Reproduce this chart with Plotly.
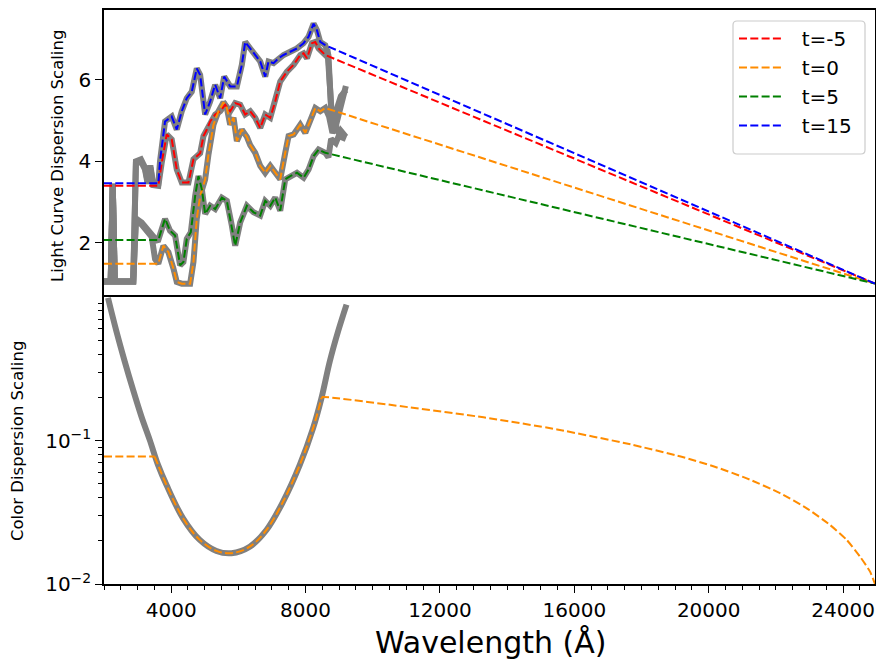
import plotly.graph_objects as go
from plotly.subplots import make_subplots

# ---------------- data ----------------
EPOCH_LABELS = ["t=-5", "t=0", "t=5", "t=15"]
EPOCH_COLORS = ["#ff0000", "#ff8c00", "#008000", "#0000ff"]

# light-curve dispersion scaling, grey "measured" curves per epoch
LC_WL_TM5 = [2000, 2200, 2260, 2320, 2870, 2950, 3100, 3220, 3300, 3380, 3460, 3617, 3717, 3867,
             4016, 4166, 4315, 4514, 4663, 4862, 4961, 5061, 5160, 5309, 5458, 5607, 5756, 5905,
             6054, 6203, 6352, 6501, 6650, 6799, 6948, 7097, 7246, 7445, 7644, 7843, 7941, 8041,
             8190, 8288, 8388, 8586, 8650, 8720, 8800, 8900, 9050, 9200]
LC_VAL_TM5 = [1.05, 1.05, 3.45, 1.05, 1.05, 3.95, 4.0, 3.8, 3.45, 3.85, 3.42, 3.40, 3.96, 4.66,
              4.54, 3.80, 3.48, 3.48, 4.05, 4.20, 4.62, 4.78, 4.98, 5.15, 5.23, 5.39, 5.23, 5.43,
              5.39, 5.15, 5.23, 5.07, 4.82, 5.15, 5.07, 5.47, 5.96, 6.20, 6.37, 6.61, 6.65, 6.53,
              6.90, 6.93, 6.77, 6.61, 6.75, 5.9, 4.9, 5.2, 5.6, 5.75]

LC_WL_T0 = [2000, 2200, 2260, 2320, 2870, 2950, 3120, 3270, 3420, 3520, 3617, 3768, 3917, 4067,
            4166, 4315, 4564, 4663, 4762, 4862, 5011, 5110, 5259, 5408, 5557, 5657, 5756, 5856,
            5955, 6104, 6253, 6352, 6501, 6650, 6799, 6948, 7097, 7246, 7395, 7494, 7644, 7843,
            7992, 8141, 8289, 8438, 8586, 8700, 8800, 8900, 9050, 9200]
LC_VAL_T0 = [1.05, 1.05, 3.45, 1.05, 1.05, 2.55, 2.45, 2.30, 2.15, 1.60, 1.49, 1.93, 1.77, 1.37,
             1.04, 1.00, 1.00, 1.53, 2.59, 3.15, 3.56, 4.17, 4.90, 5.23, 5.45, 5.31, 4.90, 5.07,
             4.50, 4.78, 4.60, 4.40, 4.21, 3.89, 3.72, 3.89, 3.72, 3.56, 4.21, 4.62, 4.66, 4.90,
             4.70, 5.02, 5.31, 5.23, 5.31, 5.10, 4.70, 4.85, 4.60, 4.55]

LC_WL_T5 = [2000, 2200, 2260, 2320, 2870, 2950, 3120, 3270, 3420, 3568, 3617, 3817, 3966, 4116,
            4265, 4364, 4464, 4584, 4713, 4812, 4912, 5011, 5160, 5309, 5508, 5657, 5806, 5905,
            6054, 6253, 6452, 6650, 6799, 6948, 7097, 7246, 7395, 7544, 7743, 7941, 8090, 8239,
            8388, 8586, 8680, 8760, 8900, 9050, 9200]
LC_VAL_T5 = [1.05, 1.05, 3.45, 1.05, 1.05, 2.60, 2.50, 2.34, 2.18, 2.06, 2.07, 2.59, 2.30, 2.18,
             1.45, 1.53, 2.10, 2.26, 3.15, 3.64, 3.32, 2.71, 2.91, 2.83, 3.11, 3.03, 2.42, 1.93,
             2.50, 2.91, 2.75, 2.67, 3.03, 2.91, 3.11, 2.79, 3.56, 3.64, 3.72, 3.60, 3.80, 4.13,
             4.29, 4.21, 4.10, 4.55, 4.45, 4.75, 4.60]

LC_WL_T15 = [2000, 2200, 2260, 2320, 2870, 2950, 3100, 3220, 3300, 3380, 3460, 3617, 3668, 3817,
             4016, 4166, 4315, 4464, 4613, 4762, 4862, 5011, 5160, 5309, 5458, 5577, 5756, 5955,
             6104, 6203, 6352, 6501, 6650, 6799, 6898, 7047, 7196, 7345, 7544, 7743, 7941, 8090,
             8239, 8338, 8437, 8586, 8680, 8760, 8850, 8950, 9080, 9200]
LC_VAL_T15 = [1.05, 1.05, 3.45, 1.05, 1.05, 4.0, 4.05, 3.85, 3.5, 3.9, 3.45, 3.46, 4.01, 4.98,
              5.10, 4.78, 5.23, 5.55, 5.71, 6.28, 6.12, 5.15, 5.47, 5.88, 5.55, 6.08, 5.84, 5.84,
              6.37, 6.93, 6.77, 6.61, 6.45, 6.08, 6.45, 6.41, 6.53, 6.61, 6.69, 6.77, 6.90, 7.06,
              7.38, 7.22, 6.93, 6.85, 6.60, 5.30, 4.70, 5.00, 5.50, 5.85]

# model (dashed) = flat below MODEL_START, data in between, straight line to MODEL_END_VAL
MODEL_START = 3617
MODEL_STOP = 8586
WL_MIN = 2000
WL_MAX = 24950
LC_MODEL_END_VAL = 1.0

# colour dispersion scaling (grey) and t=0 model
CD_WL = [2119, 2369, 2616, 2864, 3114, 3361, 3608, 3858, 4353, 4850, 5347, 5794, 6339, 6836,
         7331, 7828, 8224, 8474, 8721, 8969, 9219]
CD_VAL = [0.986, 0.577, 0.356, 0.226, 0.147, 0.101, 0.0676, 0.0491, 0.0287, 0.0203, 0.0170,
          0.0164, 0.0182, 0.0238, 0.0375, 0.0676, 0.122, 0.198, 0.356, 0.577, 0.885]
CD_MODEL_START = 3510
CD_MODEL_STOP = 8474
CD_PLATEAU = 0.0773
CD_TAIL_WL = [8507, 11113, 13298, 15487, 17673, 19195, 20136, 21131, 22122, 22917, 23611,
              24108, 24505, 24803, 24950]
CD_TAIL_VAL = [0.201, 0.170, 0.145, 0.1195, 0.0940, 0.0770, 0.0662, 0.0545, 0.0430, 0.0337,
               0.0258, 0.0203, 0.0155, 0.0122, 0.0100]

LC_TICKS = [2, 4, 6]
WL_TICKS = [4000, 8000, 12000, 16000, 20000, 24000]

# ---------------- figure ----------------
GREY = "#808080"
DASH = "8px,3.3px"
FONT = "DejaVu Sans"
NBSP = "\u00a0"
ML, MT, PW, PH = 104, 10, 771, 574   # plot-area geometry in pixels


def px(x):
    return (x - ML) / PW


def py(y):
    return (MT + PH - y) / PH


fig = make_subplots(rows=2, cols=1, shared_xaxes=True, vertical_spacing=0)

lc_sets = [(LC_WL_TM5, LC_VAL_TM5), (LC_WL_T0, LC_VAL_T0), (LC_WL_T5, LC_VAL_T5),
           (LC_WL_T15, LC_VAL_T15)]

for wl, val in lc_sets:
    fig.add_trace(go.Scatter(x=wl, y=val, mode="lines", line=dict(color=GREY, width=6),
                             showlegend=False, hoverinfo="skip"), row=1, col=1)

for (wl, val), lab, col in zip(lc_sets, EPOCH_LABELS, EPOCH_COLORS):
    mid = [(w, v) for w, v in zip(wl, val) if MODEL_START <= w <= MODEL_STOP]
    plateau = mid[0][1]
    mx = [WL_MIN] + [m[0] for m in mid] + [WL_MAX]
    my = [plateau] + [m[1] for m in mid] + [LC_MODEL_END_VAL]
    fig.add_trace(go.Scatter(x=mx, y=my, mode="lines", name=NBSP * 2 + lab, legendgroup=lab,
                             line=dict(color=col, width=2, dash=DASH)), row=1, col=1)

fig.add_trace(go.Scatter(x=CD_WL, y=CD_VAL, mode="lines",
                         line=dict(color=GREY, width=6, shape="spline", smoothing=1),
                         showlegend=False, hoverinfo="skip"), row=2, col=1)

# t=0 colour model: plateau, then the measured curve, then the tail
cmid = [(w, v) for w, v in zip(CD_WL, CD_VAL) if CD_MODEL_START <= w <= CD_MODEL_STOP]
orange = EPOCH_COLORS[1]
fig.add_trace(go.Scatter(x=[WL_MIN, CD_MODEL_START], y=[CD_PLATEAU, CD_PLATEAU], mode="lines",
                         showlegend=False, line=dict(color=orange, width=2, dash=DASH)),
              row=2, col=1)
fig.add_trace(go.Scatter(x=[CD_MODEL_START] + [m[0] for m in cmid],
                         y=[CD_PLATEAU] + [m[1] for m in cmid], mode="lines", showlegend=False,
                         line=dict(color=orange, width=2, dash=DASH, shape="spline",
                                   smoothing=1)), row=2, col=1)
fig.add_trace(go.Scatter(x=[cmid[-1][0]] + CD_TAIL_WL, y=[cmid[-1][1]] + CD_TAIL_VAL,
                         mode="lines", showlegend=False,
                         line=dict(color=orange, width=2, dash=DASH, shape="spline",
                                   smoothing=0.5)), row=2, col=1)

axis_common = dict(showline=True, linecolor="black", linewidth=1.5,
                   showgrid=False, zeroline=False, tickcolor="black", tickwidth=1.3,
                   automargin=False,
                   tickfont=dict(family=FONT, size=20, color="black"))

fig.update_xaxes(range=[WL_MIN, WL_MAX], **axis_common)
# top panel: draw only the top frame line (boundary line comes from the lower axis)
fig.update_xaxes(ticks="", showticklabels=False, side="top", mirror=False, row=1, col=1)
fig.update_xaxes(ticks="outside", ticklen=7, tickmode="array", tickvals=WL_TICKS,
                 tickformat="d", mirror=True,
                 minor=dict(ticks="outside", ticklen=4, dtick=500, tick0=0, tickcolor="black",
                            tickwidth=1, showgrid=False),
                 row=2, col=1)

fig.update_yaxes(range=[0.672, 7.714], ticks="outside", ticklen=7, tickmode="array",
                 tickvals=LC_TICKS, mirror=True, row=1, col=1, **axis_common)

minor_vals = [m * 10.0 ** e for e in (-2, -1) for m in range(2, 10)]
fig.update_yaxes(type="log", range=[-2, 0], ticks="outside", ticklen=7, tickmode="array",
                 tickvals=[0.01, 0.1], ticktext=["10<sup>−2</sup>", "10<sup>−1</sup>"],
                 mirror=True,
                 minor=dict(ticks="outside", ticklen=4, tickmode="array", tickvals=minor_vals,
                            tickcolor="black", tickwidth=1, showgrid=False),
                 row=2, col=1, **axis_common)

fig.add_annotation(text="Light Curve Dispersion Scaling", textangle=-90, xref="paper",
                   yref="paper", x=px(57), y=py(156), xanchor="center",
                   yanchor="middle", showarrow=False,
                   font=dict(family=FONT, size=16.5, color="black"))
fig.add_annotation(text="Color Dispersion Scaling", textangle=-90, xref="paper",
                   yref="paper", x=px(18), y=py(441), xanchor="center",
                   yanchor="middle", showarrow=False,
                   font=dict(family=FONT, size=16.5, color="black"))
fig.add_annotation(text="Wavelength (Å)", xref="paper", yref="paper",
                   x=px(490), y=py(642), xanchor="center",
                   yanchor="middle", showarrow=False,
                   font=dict(family=FONT, size=30, color="black"))

# rounded legend frame (matplotlib style)
x0, x1, y0, y1, r = 733, 865, 21, 154, 4
path = (f"M {px(x0 + r)},{py(y0)} L {px(x1 - r)},{py(y0)} Q {px(x1)},{py(y0)} {px(x1)},{py(y0 + r)} "
        f"L {px(x1)},{py(y1 - r)} Q {px(x1)},{py(y1)} {px(x1 - r)},{py(y1)} "
        f"L {px(x0 + r)},{py(y1)} Q {px(x0)},{py(y1)} {px(x0)},{py(y1 - r)} "
        f"L {px(x0)},{py(y0 + r)} Q {px(x0)},{py(y0)} {px(x0 + r)},{py(y0)} Z")
fig.add_shape(type="path", path=path, xref="paper", yref="paper",
              line=dict(color="#cccccc", width=1.2), fillcolor="rgba(255,255,255,0.8)",
              layer="above")

fig.update_layout(
    width=876, height=664,
    margin=dict(l=ML, r=1, t=MT, b=80, autoexpand=False),
    paper_bgcolor="white", plot_bgcolor="white",
    font=dict(family=FONT, color="black"),
    legend=dict(x=px(734), y=py(19), xanchor="left", yanchor="top",
                bgcolor="rgba(0,0,0,0)", borderwidth=0,
                font=dict(family=FONT, size=20, color="black"), itemwidth=45,
                traceorder="grouped", tracegroupgap=0),
    showlegend=True,
)

fig.write_html("out.html", config={"displayModeBar": False},
               post_script="document.body.style.margin='0px';"
                           "document.body.style.overflow='hidden';")
